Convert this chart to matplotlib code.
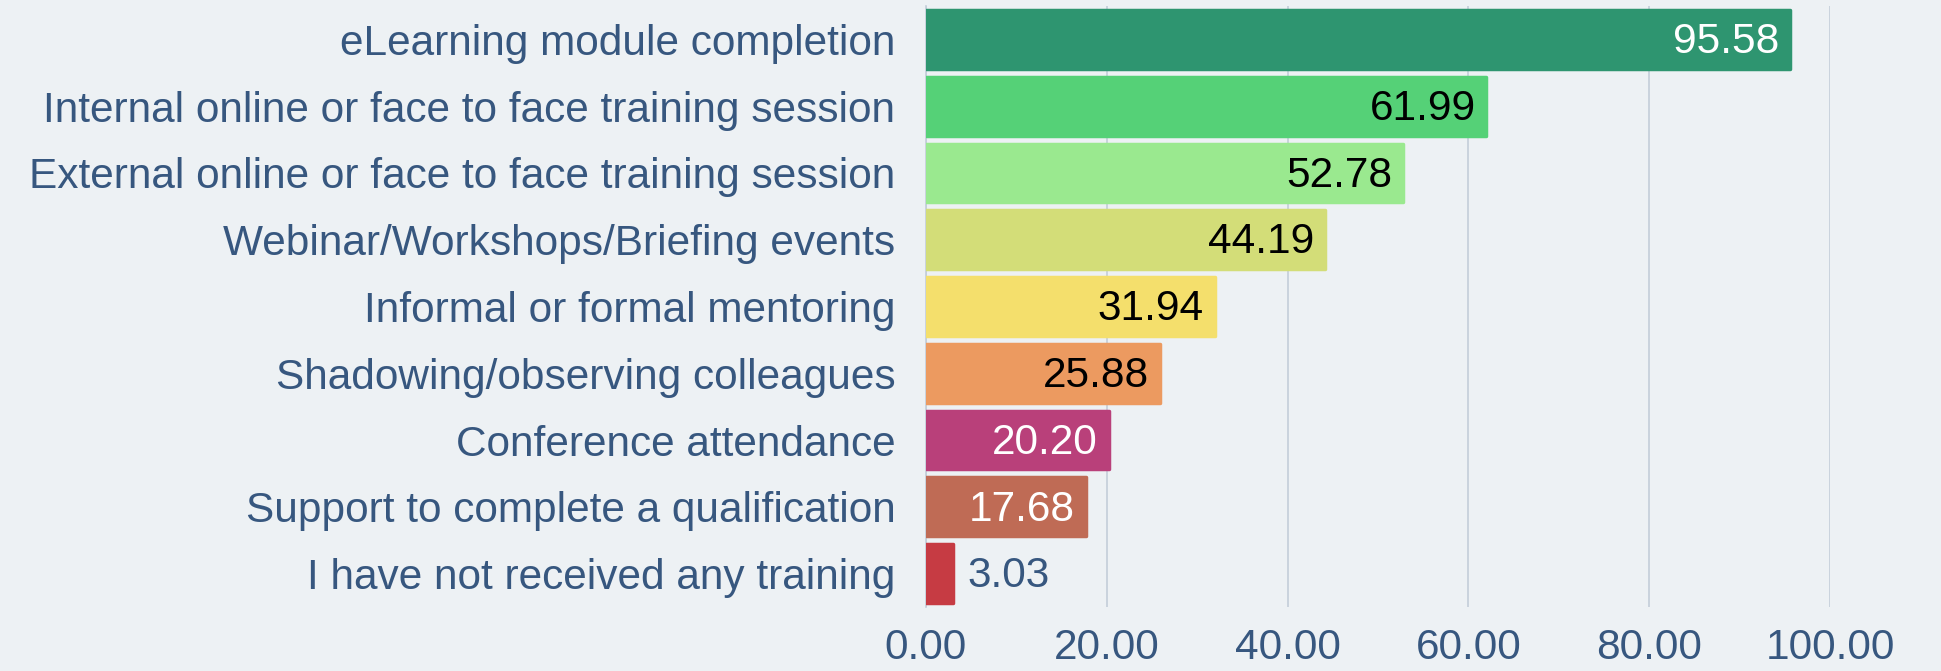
import matplotlib
matplotlib.use("Agg")
import matplotlib.pyplot as plt

categories = [
    "eLearning module completion",
    "Internal online or face to face training session",
    "External online or face to face training session",
    "Webinar/Workshops/Briefing events",
    "Informal or formal mentoring",
    "Shadowing/observing colleagues",
    "Conference attendance",
    "Support to complete a qualification",
    "I have not received any training",
]
values = [95.58, 61.99, 52.78, 44.19, 31.94, 25.88, 20.20, 17.68, 3.03]
colors = ["#2e9570", "#55d177", "#9ae98f", "#d3dd78", "#f4df6c",
          "#ec9a60", "#b9407a", "#bf6b55", "#c63b43"]
label_colors = ["white", "black", "black", "black", "black",
                "black", "white", "white", None]
xticks = [0, 20, 40, 60, 80, 100]

bg = "#edf1f4"
txt = "#37577f"
grid = "#c3cdd9"
fs = 30.5

plt.rcParams['font.family'] = ['Liberation Sans', 'DejaVu Sans']

fig = plt.figure(figsize=(19.41, 6.71), dpi=100, facecolor=bg)
ax = fig.add_axes([926/1941, 1 - 607/671, (1830-926)/1941, (607-6)/671])
ax.set_facecolor(bg)

y = list(range(len(categories)))
bars = ax.barh(y, values, height=0.88, color=colors, edgecolor=colors,
               linewidth=2.5, joinstyle='round', zorder=3)
ax.set_ylim(len(categories) - 0.5, -0.5)
ax.set_xlim(0, 100)
ax.set_yticks(y)
ax.set_yticklabels(categories, fontsize=fs, color=txt)
ax.set_xticks(xticks)
ax.set_xticklabels([f"{t:.2f}" for t in xticks], fontsize=fs, color=txt)
ax.tick_params(axis='both', length=0)
ax.tick_params(axis='y', pad=22)
ax.tick_params(axis='x', pad=15)
ax.grid(axis='x', color=grid, linewidth=1.2, zorder=0)
for s in ['top', 'right', 'bottom']:
    ax.spines[s].set_visible(False)
ax.spines['left'].set_color(grid)
ax.spines['left'].set_linewidth(1.2)

for yi, v, lc in zip(y, values, label_colors):
    if lc is None:
        ax.text(v + 1.6, yi + 0.04, f"{v:.2f}", ha='left', va='center',
                fontsize=fs, color=txt, zorder=4)
    else:
        ax.text(v - 1.2, yi + 0.04, f"{v:.2f}", ha='right', va='center',
                fontsize=fs, color=lc, zorder=4)

fig.savefig("out.png", dpi=100, facecolor=bg)
